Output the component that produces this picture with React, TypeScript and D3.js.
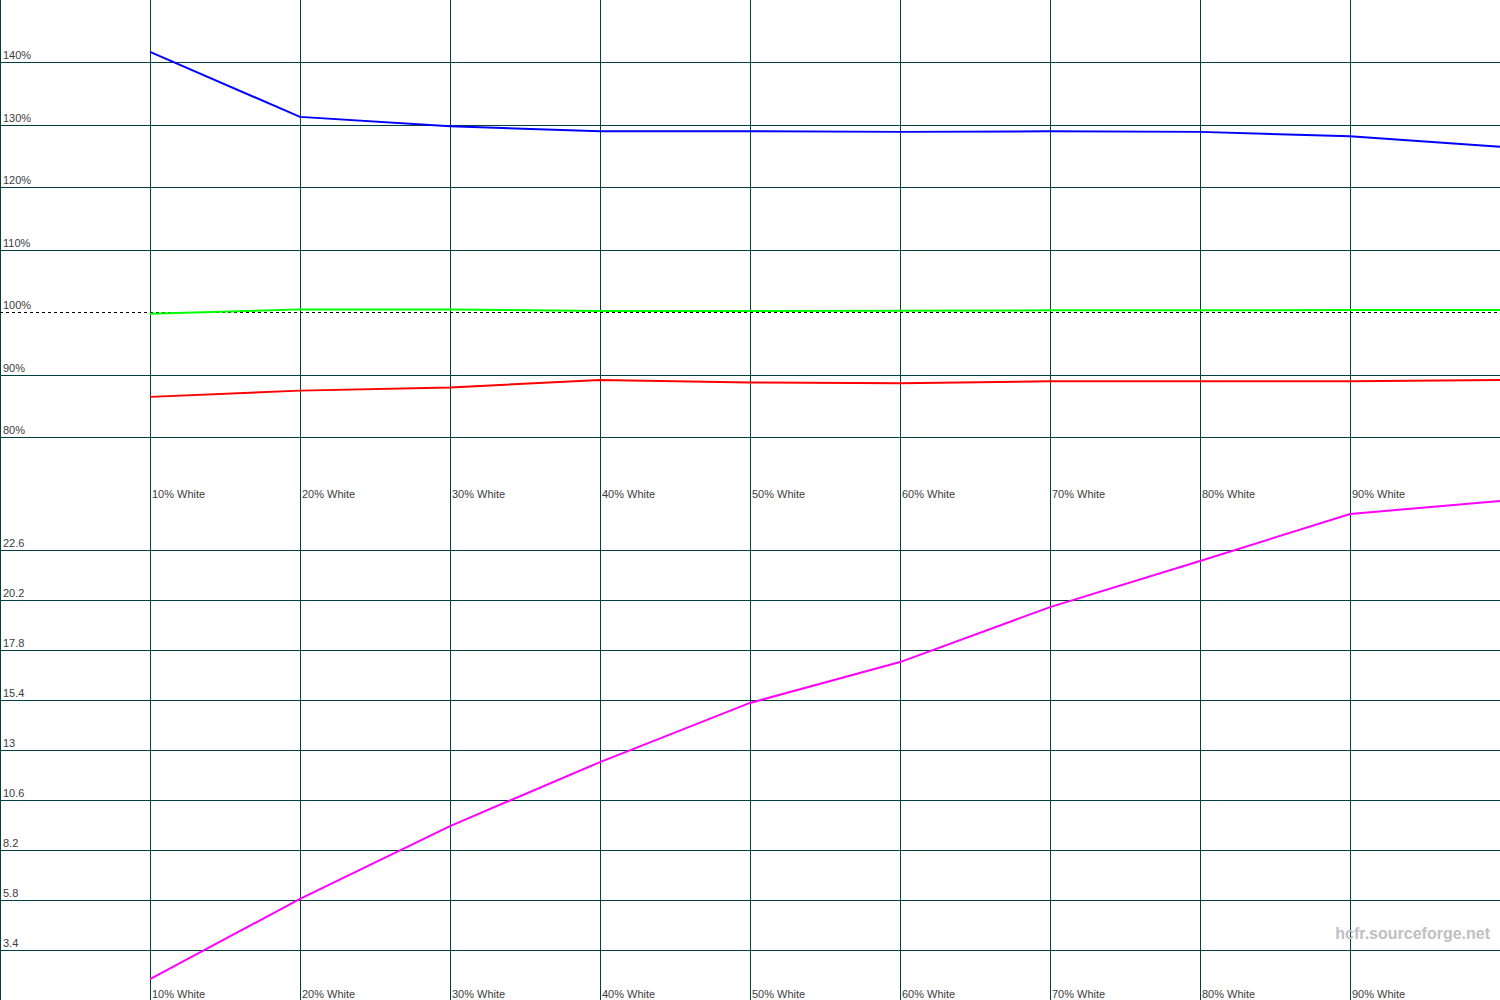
import React from "react";
import * as d3 from "d3";

const categories = ["10% White","20% White","30% White","40% White","50% White","60% White","70% White","80% White","90% White","100% White"];
const redLevels = [86.5, 87.5, 88.0, 89.2, 88.8, 88.7, 89.0, 89.0, 89.0, 89.2];
const greenLevels = [99.8, 100.5, 100.5, 100.25, 100.25, 100.3, 100.35, 100.35, 100.4, 100.4];
const blueLevels = [141.7, 131.3, 129.8, 129.0, 129.0, 128.9, 129.0, 128.9, 128.2, 126.5];
const deltaE = [2.0, 5.85, 9.35, 12.42, 15.26, 17.22, 19.86, 22.07, 24.33, 24.95];
const topTicks = [80, 90, 100, 110, 120, 130, 140];
const bottomTicks = [3.4, 5.8, 8.2, 10.6, 13, 15.4, 17.8, 20.2, 22.6];
const watermark = "hcfr.sourceforge.net";

const W = 1500;
const H = 1000;
const GRID = "#004040";
const TXT = "#3c3c3c";
const FONT = "'Liberation Sans', Arial, sans-serif";

export default function App() {
  const x = d3.scaleLinear().domain([0, categories.length]).range([0, W]);
  const xi = (i: number) => x(i + 1);
  const yTop = d3.scaleLinear().domain([70, 150]).range([500, 0]);
  const yBot = d3.scaleLinear().domain([1, 25]).range([1000, 500]);

  const lineTop = d3.line<number>().x((_, i) => xi(i)).y((d) => yTop(d));
  const lineBot = d3.line<number>().x((_, i) => xi(i)).y((d) => yBot(d));

  const vLines = d3.range(0, categories.length).map((i) => x(i));

  return (
    <svg width={W} height={H} style={{ position: "absolute", left: 0, top: 0, background: "#fff" }} fontFamily={FONT}>
      <rect x={0} y={0} width={W} height={H} fill="#fff" />
      {/* vertical grid */}
      {vLines.map((vx, i) => (
        <line key={"v" + i} x1={vx + 0.5} x2={vx + 0.5} y1={0} y2={H} stroke={GRID} strokeWidth={1} shapeRendering="crispEdges" />
      ))}
      {/* top horizontal grid */}
      {topTicks.map((t) => (
        t === 100 ? (
          <line key={"t" + t} x1={0} x2={W} y1={Math.floor(yTop(t)) + 0.5} y2={Math.floor(yTop(t)) + 0.5} stroke="#000" strokeDasharray="3,3" strokeWidth={1} shapeRendering="crispEdges" />
        ) : (
          <line key={"t" + t} x1={0} x2={W} y1={Math.floor(yTop(t)) + 0.5} y2={Math.floor(yTop(t)) + 0.5} stroke={GRID} strokeWidth={1} shapeRendering="crispEdges" />
        )
      ))}
      {topTicks.map((t) => (
        <text key={"tl" + t} x={3} y={Math.floor(yTop(t)) - 3} fontSize={11} fill={TXT}>{t + "%"}</text>
      ))}
      {/* bottom horizontal grid */}
      {bottomTicks.map((t) => (
        <line key={"b" + t} x1={0} x2={W} y1={Math.round(yBot(t)) + 0.5} y2={Math.round(yBot(t)) + 0.5} stroke={GRID} strokeWidth={1} shapeRendering="crispEdges" />
      ))}
      {bottomTicks.map((t) => (
        <text key={"bl" + t} x={3} y={Math.round(yBot(t)) - 3} fontSize={11} fill={TXT}>{String(t)}</text>
      ))}
      {/* x labels */}
      {categories.slice(0, 9).map((c, i) => (
        <text key={"xt" + i} x={xi(i) + 2} y={498} fontSize={11} fill={TXT}>{c}</text>
      ))}
      {categories.slice(0, 9).map((c, i) => (
        <text key={"xb" + i} x={xi(i) + 2} y={998} fontSize={11} fill={TXT}>{c}</text>
      ))}
      <text x={1490} y={939} fontSize={16} fontWeight="bold" fill="#c0c0c0" textAnchor="end">{watermark}</text>
      {/* series */}
      <path d={lineTop(greenLevels) || ""} fill="none" stroke="#00ff00" strokeWidth={2} />
      <path d={lineTop(redLevels) || ""} fill="none" stroke="#ff0000" strokeWidth={2} />
      <path d={lineTop(blueLevels) || ""} fill="none" stroke="#0000ff" strokeWidth={2} />
      <path d={lineBot(deltaE) || ""} fill="none" stroke="#ff00ff" strokeWidth={2} />
    </svg>
  );
}
